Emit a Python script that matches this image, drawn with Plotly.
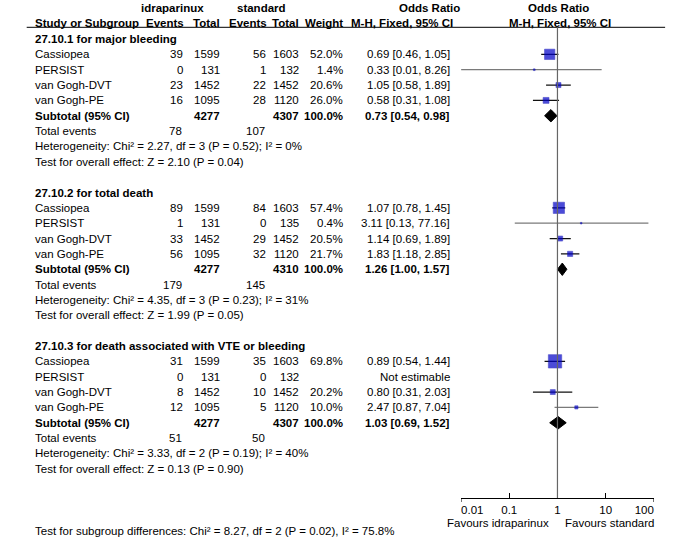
import math
import plotly.graph_objects as go

# ---- data ----
groups = ["27.10.1 for major bleeding",
          "27.10.2 for total death",
          "27.10.3 for death associated with VTE or bleeding"]
studies = ["Cassiopea", "PERSIST", "van Gogh-DVT", "van Gogh-PE"]

idra_events = [[39, 0, 23, 16], [89, 1, 33, 56], [31, 0, 8, 12]]
idra_total = [[1599, 131, 1452, 1095], [1599, 131, 1452, 1095], [1599, 131, 1452, 1095]]
std_events = [[56, 1, 22, 28], [84, 0, 29, 32], [35, 0, 10, 5]]
std_total = [[1603, 132, 1452, 1120], [1603, 135, 1452, 1120], [1603, 132, 1452, 1120]]
weights = [[52.0, 1.4, 20.6, 26.0], [57.4, 0.4, 20.5, 21.7], [69.8, None, 20.2, 10.0]]
odds = [[0.69, 0.33, 1.05, 0.58], [1.07, 3.11, 1.14, 1.83], [0.89, None, 0.80, 2.47]]
ci_low = [[0.46, 0.01, 0.58, 0.31], [0.78, 0.13, 0.69, 1.18], [0.54, None, 0.31, 0.87]]
ci_high = [[1.05, 8.26, 1.89, 1.08], [1.45, 77.16, 1.89, 2.85], [1.44, None, 2.03, 7.04]]

sub_idra_total = [4277, 4277, 4277]
sub_std_total = [4307, 4310, 4307]
sub_odds = [0.73, 1.26, 1.03]
sub_low = [0.54, 1.00, 0.69]
sub_high = [0.98, 1.57, 1.52]
tot_idra_events = [78, 179, 51]
tot_std_events = [107, 145, 50]
heterogeneity = ["Heterogeneity: Chi² = 2.27, df = 3 (P = 0.52); I² = 0%",
                 "Heterogeneity: Chi² = 4.35, df = 3 (P = 0.23); I² = 31%",
                 "Heterogeneity: Chi² = 3.33, df = 2 (P = 0.19); I² = 40%"]
overall = ["Test for overall effect: Z = 2.10 (P = 0.04)",
           "Test for overall effect: Z = 1.99 (P = 0.05)",
           "Test for overall effect: Z = 0.13 (P = 0.90)"]
subgroup_diff = "Test for subgroup differences: Chi² = 8.27, df = 2 (P = 0.02), I² = 75.8%"

tick_vals = [0.01, 0.1, 1, 10, 100]
tick_text = ["0.01", "0.1", "1", "10", "100"]
null_value = 1

W, H = 686, 539
FONT = "Liberation Sans, Arial, sans-serif"
FS = 11.5
ROW0, ROW_H = 39, 15.35
AXIS_Y = 498
LINE_Y = 27.3
NB = "\u00a0"


def row_y(sec, i):
    return ROW0 + ROW_H * (10 * sec + i)


fig = go.Figure()
ann = []


def txt(x, y, s, anchor="right", bold=False, xref="x", xshift=0):
    if bold:
        s = "<b>" + s + "</b>"
    ann.append(dict(x=x, y=y, text=s, xref=xref, yref="y", xanchor=anchor,
                    yanchor="middle", showarrow=False, xshift=xshift,
                    font=dict(family=FONT, size=FS, color="black")))


# header
txt(160, 8, "idraparinux", "center", True)
txt(255, 8, "standard", "center", True)
txt(433, 8, "Odds Ratio", "center", True)
txt(571, 8, "Odds Ratio", "center", True)
txt(12, 22.5, "Study or Subgroup", "left", True)
txt(174, 22.5, "Events", bold=True)
txt(213, 22.5, "Total", bold=True)
txt(263, 22.5, "Events", bold=True)
txt(297, 22.5, "Total", bold=True)
txt(344, 22.5, "Weight", bold=True)
txt(460, 22.5, "M-H, Fixed, 95% CI", bold=True)
txt(572, 22.5, "M-H, Fixed, 95% CI", "center", True)

sq_x, sq_y, sq_s = [], [], []
for s, g in enumerate(groups):
    txt(12, row_y(s, 0), g, "left", True)
    for i, name in enumerate(studies):
        y = row_y(s, i + 1)
        txt(12, y, name, "left")
        txt(173, y, str(idra_events[s][i]))
        txt(213, y, str(idra_total[s][i]))
        txt(262, y, str(std_events[s][i]))
        txt(297, y, str(std_total[s][i]))
        w = weights[s][i]
        if odds[s][i] is None:
            txt(457, y, "Not estimable")
            continue
        txt(344, y, f"{w:.1f}%")
        txt(457, y, f"{odds[s][i]:.2f} [{ci_low[s][i]:.2f}, {ci_high[s][i]:.2f}]")
        wide = ci_high[s][i] / ci_low[s][i] > 8
        fig.add_trace(go.Scatter(
            x=[ci_low[s][i], ci_high[s][i]], y=[y, y], xaxis="x2", yaxis="y",
            mode="lines", line=dict(color="#7a7a7a" if wide else "#111111", width=1.3),
            hoverinfo="skip", showlegend=False))
        sq_x.append(odds[s][i])
        sq_y.append(y)
        sq_s.append(1.5 + 0.17 * w)

    y = row_y(s, 5)
    txt(12, y, "Subtotal (95% CI)", "left", True)
    txt(213, y, str(sub_idra_total[s]), bold=True)
    txt(297, y, str(sub_std_total[s]), bold=True)
    txt(344, y, "100.0%", bold=True)
    txt(457, y, f"{sub_odds[s]:.2f} [{sub_low[s]:.2f}, {sub_high[s]:.2f}]", bold=True)
    fig.add_trace(go.Scatter(
        x=[sub_low[s], sub_odds[s], sub_high[s], sub_odds[s], sub_low[s]],
        y=[y, y - 6.2, y, y + 6.2, y], xaxis="x2", yaxis="y",
        mode="lines", fill="toself", fillcolor="black",
        line=dict(color="black", width=1), hoverinfo="skip", showlegend=False))

    txt(12, row_y(s, 6), "Total events", "left")
    txt(172, row_y(s, 6), str(tot_idra_events[s]))
    txt(261, row_y(s, 6), str(tot_std_events[s]))
    txt(12, row_y(s, 7), heterogeneity[s], "left")
    txt(12, row_y(s, 8), overall[s], "left")

fig.add_trace(go.Scatter(
    x=sq_x, y=sq_y, xaxis="x2", yaxis="y", mode="markers",
    marker=dict(symbol="square", size=sq_s, color="#0000c8",
                line=dict(width=0.6, color="#0000b4")),
    hoverinfo="skip", showlegend=False))

txt(12, 531, subgroup_diff, "left")
# annotations on a log axis take log10 positions
txt(math.log10(null_value), 523, "Favours idraparinux", "right", xref="x2", xshift=-6)
txt(math.log10(null_value), 523, "Favours standard", "left", xref="x2", xshift=6)

# end labels sit inside the axis ends, as in RevMan
labels = list(tick_text)
labels[0] = NB * 7 + labels[0]
labels[-1] = labels[-1] + NB * 6

shapes = [
    dict(type="line", xref="x", yref="y", x0=5, x1=684, y0=LINE_Y, y1=LINE_Y,
         line=dict(color="black", width=1)),
    dict(type="line", xref="x2", yref="y", x0=null_value, x1=null_value,
         y0=LINE_Y, y1=AXIS_Y, line=dict(color="#666666", width=1.2)),
]
for v in (tick_vals[0], tick_vals[-1]):
    shapes.append(dict(type="line", xref="x2", yref="y", x0=v, x1=v,
                       y0=AXIS_Y, y1=AXIS_Y + 4, line=dict(color="black", width=1)))

fig.update_layout(
    width=W, height=H, margin=dict(l=0, r=0, t=0, b=0),
    paper_bgcolor="white", plot_bgcolor="white",
    annotations=ann, shapes=shapes,
    xaxis=dict(range=[0, W], domain=[0, 1], visible=False, fixedrange=True),
    yaxis=dict(range=[H, 0], domain=[0, 1], visible=False, fixedrange=True),
    xaxis2=dict(type="log", range=[-2, 2], domain=[467 / W, 672 / W],
                anchor="free", position=1 - AXIS_Y / H,
                showline=True, linecolor="black", linewidth=1,
                ticks="inside", ticklen=5, tickcolor="black",
                tickvals=tick_vals, ticktext=labels, ticklabelstandoff=1,
                ticklabeloverflow="allow",
                tickfont=dict(family=FONT, size=FS, color="black"),
                showgrid=False, zeroline=False, fixedrange=True),
)

# page without the default body margin so the figure sits at the top-left corner
fig.write_html("out.html", config={"displayModeBar": False},
               post_script="document.body.style.margin='0';")
